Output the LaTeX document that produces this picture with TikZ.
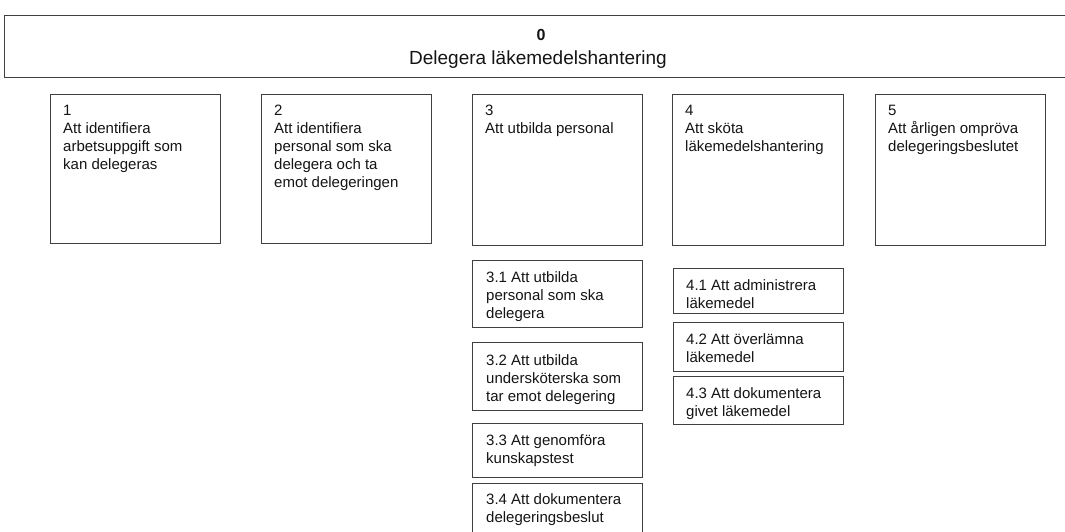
\documentclass[tikz,border=0pt]{standalone}
\usepackage{fontspec}
\setmainfont{Liberation Sans}
\begin{document}
\begin{tikzpicture}[x=1pt,y=-1pt,
  box/.style={draw=black!75, line width=1.3pt, rectangle, inner sep=0pt, anchor=north west},
  txt/.style={anchor=north west, align=left, inner sep=0pt, font=\fontsize{15}{18}\selectfont, text=black!92},
  ttl/.style={anchor=base, inner sep=0pt, text=black!92}]
\useasboundingbox (0,0) rectangle (1065,532);
\clip (0,0) rectangle (1065,532);
% top box
\node[box, minimum width=1080pt, minimum height=62pt] (b0) at (4,15) {};
\node[ttl, font=\fontsize{16}{19}\selectfont\bfseries] (t0a) at (541,41) {0};
\node[ttl, font=\fontsize{19}{22}\selectfont] (t0b) at (538,65) {Delegera läkemedelshantering};
% level 1 boxes
\node[box, minimum width=170pt, minimum height=149pt] (b1) at (50,94) {};
\node[box, minimum width=170pt, minimum height=149pt] (b2) at (261,94) {};
\node[box, minimum width=170pt, minimum height=151pt] (b3) at (472,94) {};
\node[box, minimum width=171pt, minimum height=151pt] (b4) at (672,94) {};
\node[box, minimum width=170pt, minimum height=151pt] (b5) at (875,94) {};
\node[txt] (t1) at ([xshift=13pt,yshift=-8.4pt]b1.north west) {\strut1\\Att identifiera\\arbetsuppgift som\\kan delegeras};
\node[txt] (t2) at ([xshift=13pt,yshift=-8.4pt]b2.north west) {\strut2\\Att identifiera\\personal som ska\\delegera och ta\\emot delegeringen};
\node[txt] (t3) at ([xshift=13pt,yshift=-8.4pt]b3.north west) {\strut3\\Att utbilda personal};
\node[txt] (t4) at ([xshift=13pt,yshift=-8.4pt]b4.north west) {\strut4\\Att sköta\\läkemedelshantering};
\node[txt] (t5) at ([xshift=13pt,yshift=-8.4pt]b5.north west) {\strut5\\Att årligen ompröva\\delegeringsbeslutet};
% sub boxes of 3
\node[box, minimum width=170pt, minimum height=67pt] (s31) at (472,260) {};
\node[box, minimum width=170pt, minimum height=68pt] (s32) at (472,342) {};
\node[box, minimum width=170pt, minimum height=54pt] (s33) at (472,423) {};
\node[box, minimum width=170pt, minimum height=60pt] (s34) at (472,483) {};
\node[txt] (t31) at ([xshift=14pt,yshift=-9.4pt]s31.north west) {\strut3.1 Att utbilda\\personal som ska\\delegera};
\node[txt] (t32) at ([xshift=14pt,yshift=-10.4pt]s32.north west) {\strut3.2 Att utbilda\\undersköterska som\\tar emot delegering};
\node[txt] (t33) at ([xshift=14pt,yshift=-9.4pt]s33.north west) {\strut3.3 Att genomföra\\kunskapstest};
\node[txt] (t34) at ([xshift=14pt,yshift=-8.4pt]s34.north west) {\strut3.4 Att dokumentera\\delegeringsbeslut};
% sub boxes of 4
\node[box, minimum width=170pt, minimum height=45pt] (s41) at (673,268) {};
\node[box, minimum width=170pt, minimum height=49pt] (s42) at (673,322) {};
\node[box, minimum width=170pt, minimum height=48pt] (s43) at (673,376) {};
\node[txt] (t41) at ([xshift=13pt,yshift=-9.4pt]s41.north west) {\strut4.1 Att administrera\\läkemedel};
\node[txt] (t42) at ([xshift=13pt,yshift=-9.4pt]s42.north west) {\strut4.2 Att överlämna\\läkemedel};
\node[txt] (t43) at ([xshift=13pt,yshift=-9.4pt]s43.north west) {\strut4.3 Att dokumentera\\givet läkemedel};
\end{tikzpicture}
\end{document}
